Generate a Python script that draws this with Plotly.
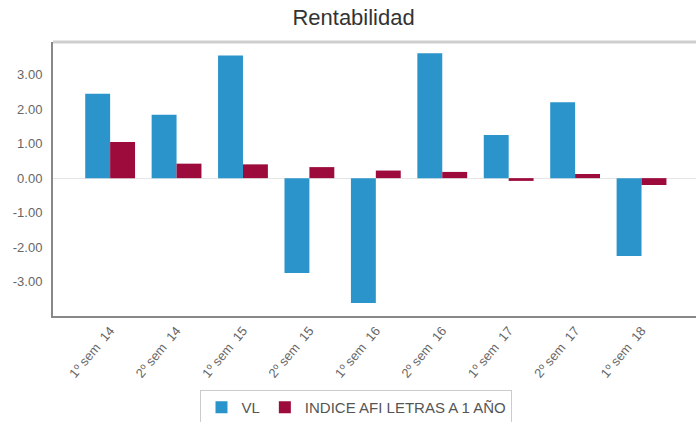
import plotly.graph_objects as go

categories = ["1º sem  14", "2º sem  14", "1º sem  15", "2º sem  15", "1º sem  16",
              "2º sem  16", "1º sem  17", "2º sem  17", "1º sem  18"]
vl = [2.45, 1.84, 3.56, -2.75, -3.62, 3.62, 1.25, 2.20, -2.26]
indice = [1.05, 0.42, 0.40, 0.32, 0.22, 0.18, -0.08, 0.12, -0.20]
ytick_vals = [3, 2, 1, 0, -1, -2, -3]
ytick_text = ["3.00", "2.00", "1.00", "0.00", "-1.00", "-2.00", "-3.00"]

fig = go.Figure()
fig.add_trace(go.Bar(x=categories, y=vl, name="VL", marker_color="#2b94cb",
                     marker_line_width=0))
fig.add_trace(go.Bar(x=categories, y=indice, name="INDICE AFI LETRAS A 1 AÑO",
                     marker_color="#9c0b3b", marker_line_width=0))

fig.update_layout(
    width=696, height=422,
    paper_bgcolor="white", plot_bgcolor="white",
    margin=dict(l=53, r=0, t=42, b=106, autoexpand=False),
    barmode="group", bargap=0.25, bargroupgap=0,
    font=dict(family="Liberation Sans, Arial, sans-serif", color="#666666", size=13),
    title=dict(text="Rentabilidad", x=0.508, xanchor="center", y=0.978, yanchor="top",
               font=dict(size=22, color="#333333")),
    legend=dict(orientation="h", x=0.472, xanchor="center", y=-0.27, yanchor="top",
                bordercolor="#cccccc", borderwidth=1, font=dict(size=15, color="#555555"),
                itemwidth=30, tracegroupgap=0),
    showlegend=True,
    shapes=[dict(type="line", xref="paper", yref="paper", x0=0, x1=1, y0=1, y1=1,
                 line=dict(color="#cfcfcf", width=3))],
)
fig.update_xaxes(range=[-0.86, 8.82], showline=True, linecolor="#888888", linewidth=2,
                 tickangle=-50, ticks="", showgrid=False, automargin=False,
                 tickfont=dict(size=13, color="#666666"))
fig.update_yaxes(range=[-4.0, 3.95], tickvals=ytick_vals, ticktext=ytick_text,
                 showline=True, linecolor="#888888", linewidth=2, showgrid=False,
                 zeroline=True, zerolinecolor="#e6e6e6", zerolinewidth=1, automargin=False,
                 ticks="", ticklabelstandoff=6, tickfont=dict(size=13, color="#666666"))

fig.write_html("out.html", config={"displayModeBar": False},
               post_script="document.body.style.margin='0px';")
